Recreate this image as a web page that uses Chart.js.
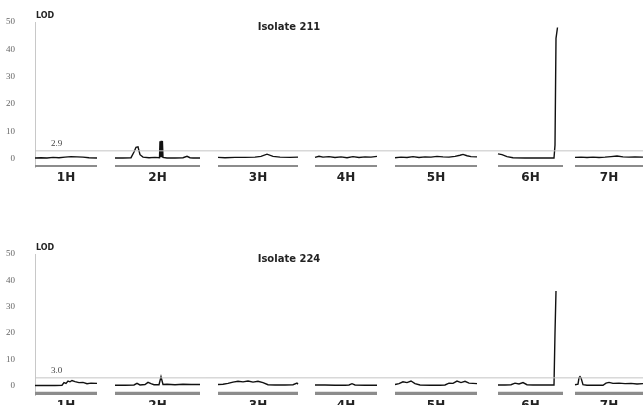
<!DOCTYPE html>
<html>
<head>
<meta charset="utf-8">
<script src="https://cdn.jsdelivr.net/npm/chart.js@4.4.1/dist/chart.umd.min.js"></script>
<style>
  html, body { margin: 0; padding: 0; background: #fff; overflow: hidden; }
  #wrap { position: relative; width: 643px; height: 405px; }
  canvas { position: absolute; left: 0; }
  #c211 { top: 0; }
  #c224 { top: 228px; }
</style>
</head>
<body>
<div id="wrap">
  <canvas id="c211" width="643" height="200"></canvas>
  <canvas id="c224" width="643" height="200"></canvas>
</div>
<script>
// chromosome layout along the genome axis
var chromNames = ['1H', '2H', '3H', '4H', '5H', '6H', '7H'];
var chromStart = [0, 80, 183, 280, 360, 463, 540];
var chromEnd   = [62, 165, 263, 342, 442, 528, 608];

var yTicks = [0, 10, 20, 30, 40, 50];
var thresholds = [2.9, 3.0];
var titles = ['Isolate 211', 'Isolate 224'];

// Isolate 211 - positions and LOD (null breaks between chromosomes)
var pos211 = [
  0, 6, 12, 18, 24, 30, 36, 42, 48, 54, 62, null,
  80, 88, 96, 99, 101, 103, 105, 108, 114, 120, 124.5, 125, 125.6, 126.2, 126.8, 127.4, 128, 132, 140, 148, 152, 155, 158, 165, null,
  183, 190, 200, 210, 220, 226, 232, 238, 245, 255, 263, null,
  280, 284, 288, 294, 300, 306, 312, 318, 324, 330, 336, 342, null,
  360, 366, 372, 378, 384, 390, 396, 402, 408, 414, 420, 425, 428, 432, 436, 442, null,
  463, 467, 472, 478, 490, 505, 519, 520, 521, 522.5, null,
  540, 546, 552, 558, 564, 570, 576, 582, 588, 594, 600, 608
];
var lod211 = [
  0.3, 0.4, 0.3, 0.5, 0.4, 0.6, 0.8, 0.7, 0.6, 0.4, 0.3, null,
  0.3, 0.3, 0.4, 2.5, 4.2, 4.4, 1.5, 0.6, 0.4, 0.5, 0.4, 6.4, 0.6, 6.6, 0.6, 6.5, 0.5, 0.3, 0.3, 0.4, 0.9, 0.4, 0.3, 0.3, null,
  0.5, 0.4, 0.5, 0.5, 0.6, 0.9, 1.7, 0.9, 0.6, 0.5, 0.6, null,
  0.5, 0.9, 0.6, 0.8, 0.5, 0.7, 0.4, 0.8, 0.5, 0.7, 0.6, 0.9, null,
  0.4, 0.6, 0.5, 0.8, 0.5, 0.7, 0.6, 0.9, 0.7, 0.6, 0.9, 1.3, 1.6, 1.1, 0.8, 0.7, null,
  1.8, 1.5, 0.8, 0.4, 0.3, 0.3, 0.3, 5, 44, 48, null,
  0.5, 0.6, 0.5, 0.6, 0.5, 0.6, 0.8, 1.0, 0.7, 0.6, 0.7, 0.6
];

// Isolate 224
var pos224 = [
  0, 10, 20, 27, 29, 31, 33, 35, 37, 40, 44, 48, 52, 56, 62, null,
  80, 90, 99, 102, 105, 110, 113, 116, 119, 124, 126, 128, 132, 140, 148, 156, 165, null,
  183, 188, 193, 198, 203, 208, 213, 218, 223, 228, 233, 240, 250, 258, 262, 263, null,
  280, 290, 300, 310, 314, 317, 320, 330, 342, null,
  360, 364, 368, 372, 376, 380, 385, 395, 405, 410, 414, 418, 422, 426, 430, 434, 438, 442, null,
  463, 470, 476, 480, 484, 488, 492, 498, 510, 519, 520, 521, null,
  540, 543, 544, 545, 546, 548, 552, 560, 568, 571, 574, 578, 584, 590, 596, 602, 608
];
var lod224 = [
  0.1, 0.1, 0.1, 0.2, 1.2, 0.9, 1.8, 1.5, 2.0, 1.6, 1.2, 1.3, 0.8, 1.0, 0.9, null,
  0.2, 0.2, 0.3, 0.9, 0.3, 0.5, 1.3, 0.8, 0.4, 0.4, 3.4, 0.5, 0.6, 0.4, 0.6, 0.5, 0.5, null,
  0.5, 0.6, 0.9, 1.4, 1.7, 1.5, 1.8, 1.4, 1.7, 1.2, 0.4, 0.3, 0.3, 0.4, 1.0, 0.6, null,
  0.3, 0.3, 0.2, 0.2, 0.3, 0.8, 0.3, 0.2, 0.2, null,
  0.5, 0.8, 1.5, 1.2, 1.8, 0.8, 0.3, 0.2, 0.2, 0.3, 1.0, 0.9, 1.8, 1.2, 1.7, 1.0, 0.9, 0.8, null,
  0.3, 0.3, 0.4, 1.0, 0.7, 1.2, 0.4, 0.3, 0.3, 0.3, 20, 36, null,
  0.4, 0.6, 3.0, 3.5, 3.0, 0.4, 0.2, 0.2, 0.2, 1.0, 1.3, 0.9, 1.0, 0.8, 0.9, 0.7, 0.8
];

function toPoints(xs, ys) {
  return xs.map(function(x, i) {
    return x === null ? { x: NaN, y: null } : { x: x, y: ys[i] };
  });
}

function chromBarPoints(level) {
  var pts = [];
  chromStart.forEach(function(s, i) {
    pts.push({ x: s, y: level }, { x: chromEnd[i], y: level }, { x: NaN, y: null });
  });
  return pts;
}

var textPlugin = {
  id: 'panelText',
  afterDraw: function(chart) {
    var o = chart.options.plugins.panelText;
    var ctx = chart.ctx;
    var x = chart.scales.x, y = chart.scales.y;
    ctx.save();
    ctx.fillStyle = '#222';
    ctx.font = 'bold 10px "DejaVu Sans", sans-serif';
    ctx.textAlign = 'center';
    ctx.textBaseline = 'middle';
    ctx.fillText(o.title, x.getPixelForValue(254), y.getPixelForValue(48));
    ctx.font = 'bold 8px "DejaVu Sans", sans-serif';
    ctx.textAlign = 'left';
    ctx.fillText('LOD', x.left + 1, y.top - 6);
    ctx.font = '9px "Liberation Serif", serif';
    ctx.fillStyle = '#444';
    ctx.fillText(o.threshold.toFixed(1), x.getPixelForValue(16), y.getPixelForValue(o.threshold) - 7);
    ctx.restore();
  }
};

function makeChart(id, xs, ys, threshold, title, ymin, barLevel, barWidth, topPad) {
  return new Chart(document.getElementById(id), {
    type: 'line',
    data: {
      datasets: [{
        data: [{ x: 0, y: threshold }, { x: 608, y: threshold }],
        borderColor: '#c4c4c4',
        borderWidth: 1,
        pointRadius: 0
      }, {
        data: chromBarPoints(barLevel),
        borderColor: '#8c8c8c',
        borderWidth: barWidth,
        pointRadius: 0,
        spanGaps: false
      }, {
        data: toPoints(xs, ys),
        borderColor: '#111',
        borderWidth: 1.4,
        pointRadius: 0,
        tension: 0,
        spanGaps: false
      }]
    },
    options: {
      responsive: false,
      animation: false,
      devicePixelRatio: 1,
      layout: { padding: { top: topPad, left: 0, right: 0, bottom: 0 } },
      plugins: {
        legend: { display: false },
        tooltip: { enabled: false },
        panelText: { title: title, threshold: threshold }
      },
      scales: {
        x: {
          type: 'linear',
          min: 0,
          max: 608,
          grid: { display: false, drawTicks: false },
          border: { display: false },
          afterBuildTicks: function(scale) {
            scale.ticks = chromStart.map(function(s, i) {
              return { value: (s + chromEnd[i]) / 2 };
            });
          },
          afterFit: function(scale) { scale.height = 200 - 167 - topPad + topPad; },
          ticks: {
            autoSkip: false,
            maxRotation: 0,
            padding: 4,
            color: '#222',
            font: { family: '"DejaVu Sans", sans-serif', size: 12, weight: 'bold' },
            callback: function(value, index) { return chromNames[index]; }
          }
        },
        y: {
          min: ymin,
          max: 50,
          grid: { display: false },
          border: { display: true, color: '#c8c8c8', width: 1 },
          afterBuildTicks: function(scale) {
            scale.ticks = yTicks.map(function(v) { return { value: v }; });
          },
          afterFit: function(scale) { scale.width = 35; },
          ticks: {
            padding: 12,
            color: '#666',
            font: { family: '"Liberation Serif", serif', size: 9 }
          }
        }
      }
    },
    plugins: [textPlugin]
  });
}

makeChart('c211', pos211, lod211, thresholds[0], titles[0], -3, -2.6, 2, 22);
makeChart('c224', pos224, lod224, thresholds[1], titles[1], -3.5, -3, 4, 26);
</script>
</body>
</html>
